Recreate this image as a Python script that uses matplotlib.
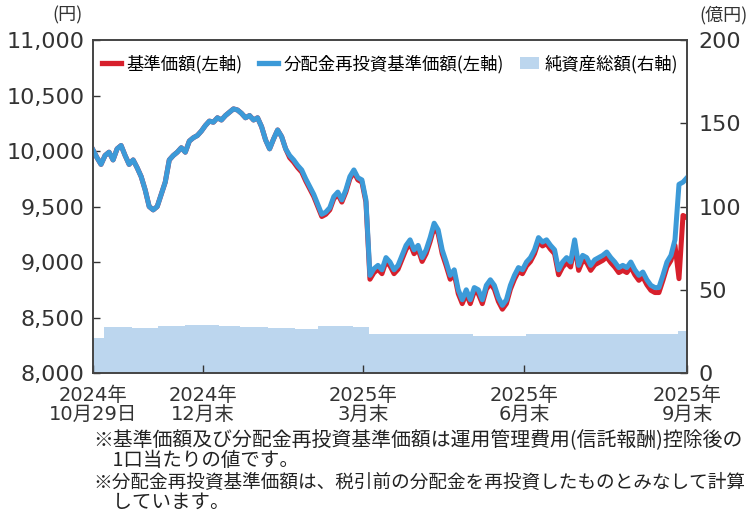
import matplotlib
matplotlib.use("Agg")
import matplotlib.pyplot as plt
from matplotlib.lines import Line2D
from matplotlib.patches import Patch
import numpy as np
import pandas as pd

plt.rcParams['font.family'] = ['DejaVu Sans', 'Noto Sans CJK JP']

# 分配金再投資基準価額 (blue), sampled evenly from 2024-10-29 to 2025-09-30
reinvest_nav = [
    10010, 9940, 9880, 9960, 9990, 9920, 10020, 10050, 9960, 9880,
    9920, 9850, 9770, 9650, 9500, 9470, 9500, 9610, 9720, 9920,
    9960, 9990, 10030, 9990, 10090, 10120, 10140, 10180, 10230, 10270,
    10260, 10300, 10280, 10320, 10350, 10380, 10370, 10340, 10300, 10320,
    10280, 10300, 10220, 10100, 10020, 10110, 10190, 10130, 10020, 9960,
    9920, 9870, 9830, 9750, 9680, 9610, 9520, 9430, 9450, 9490,
    9590, 9630, 9560, 9650, 9770, 9830, 9760, 9740, 9560, 8880,
    8940, 8970, 8930, 9040, 9000, 8930, 8970, 9060, 9150, 9200,
    9110, 9150, 9040, 9110, 9220, 9350, 9290, 9110, 9000, 8880,
    8930, 8750, 8660, 8750, 8660, 8770, 8750, 8660, 8790, 8840,
    8790, 8680, 8610, 8660, 8790, 8880, 8950, 8930, 9000, 9040,
    9110, 9220, 9180, 9200, 9150, 9110, 8930, 9000, 9040, 9000,
    9200, 8970, 9060, 9040, 8970, 9020, 9040, 9060, 9090, 9040,
    9000, 8950, 8970, 8950, 9000, 8930, 8880, 8910, 8840, 8790,
    8770, 8770, 8880, 9000, 9060, 9200, 9700, 9720, 9760,
]

# 基準価額 (red)
nav = [
    10010, 9940, 9880, 9960, 9990, 9920, 10020, 10050, 9960, 9880,
    9920, 9850, 9770, 9650, 9500, 9470, 9500, 9610, 9720, 9920,
    9960, 9990, 10030, 9990, 10090, 10120, 10140, 10180, 10230, 10270,
    10260, 10300, 10280, 10320, 10350, 10380, 10370, 10340, 10300, 10320,
    10280, 10300, 10220, 10100, 10020, 10110, 10190, 10130, 10020, 9940,
    9900, 9850, 9810, 9730, 9660, 9590, 9500, 9410, 9430, 9470,
    9570, 9610, 9540, 9630, 9750, 9810, 9740, 9720, 9540, 8845,
    8905, 8935, 8895, 9005, 8965, 8895, 8935, 9025, 9115, 9165,
    9075, 9115, 9005, 9075, 9185, 9315, 9255, 9075, 8965, 8845,
    8895, 8715, 8625, 8715, 8625, 8735, 8715, 8625, 8755, 8805,
    8755, 8645, 8575, 8625, 8755, 8845, 8915, 8895, 8965, 9005,
    9075, 9185, 9145, 9165, 9115, 9075, 8885, 8955, 8995, 8955,
    9155, 8925, 9015, 8995, 8925, 8975, 8995, 9015, 9045, 8995,
    8955, 8905, 8925, 8905, 8955, 8885, 8835, 8865, 8795, 8745,
    8725, 8725, 8835, 8955, 9015, 9150, 8850, 9420, 9400,
]

# 純資産総額 (億円, right axis)
asset_dates = ['2024-10-29', '2024-11-04', '2024-11-20', '2024-12-05', '2024-12-20',
               '2025-01-08', '2025-01-20', '2025-02-05', '2025-02-20', '2025-03-05',
               '2025-03-25', '2025-04-03', '2025-05-01', '2025-06-01', '2025-07-01',
               '2025-08-01', '2025-09-01', '2025-09-25', '2025-09-30']
asset_values = [21, 27.5, 27, 28.5, 29, 28, 27.5, 27, 26.5, 28,
                27.5, 23.5, 23.5, 22.5, 23.5, 23.5, 23.5, 25, 25]

tick_dates = ['2024-10-29', '2024-12-30', '2025-03-31', '2025-06-30', '2025-09-30']
tick_labels = ['2024年\n10月29日', '2024年\n12月末', '2025年\n3月末', '2025年\n6月末', '2025年\n9月末']

notes = [
    '※基準価額及び分配金再投資基準価額は運用管理費用(信託報酬)控除後の',
    '　1口当たりの値です。',
    '※分配金再投資基準価額は、税引前の分配金を再投資したものとみなして計算',
    '　しています。',
]
note_sizes = [14.3, 14.0, 13.4, 14.0]
note_ys = [0.143, 0.104, 0.061, 0.022]

RED = '#d7202c'
BLUE = '#3c9ad8'
AREA = '#bcd6ee'
TXT = '#333333'

dates = pd.date_range('2024-10-29', '2025-09-30', periods=len(nav))
a_dates = pd.to_datetime(asset_dates)

fig = plt.figure(figsize=(7.47, 5.14), dpi=100)
ax = fig.add_axes([0.1245, 0.2743, 0.7952, 0.6477])
ax2 = ax.twinx()

ax2.fill_between(a_dates, asset_values, 0, step='post', color=AREA, linewidth=0)
ax2.set_ylim(0, 200)
ax2.set_yticks([0, 50, 100, 150, 200])

ax.set_zorder(ax2.get_zorder() + 1)
ax.patch.set_visible(False)
ax.plot(dates, nav, color=RED, lw=3.6, solid_joinstyle='round')
ax.plot(dates, reinvest_nav, color=BLUE, lw=3.6, solid_joinstyle='round')

ax.set_ylim(8000, 11000)
ax.set_yticks(np.arange(8000, 11001, 500))
ax.yaxis.set_major_formatter(plt.FuncFormatter(lambda v, p: f'{v:,.0f}'))
ax.set_xlim(pd.Timestamp('2024-10-29'), pd.Timestamp('2025-09-30'))
ax.set_xticks(pd.to_datetime(tick_dates))
ax.set_xticklabels(tick_labels, linespacing=1.0)

ax.tick_params(axis='y', direction='in', length=5, width=1, labelsize=16, pad=6, colors=TXT)
ax.tick_params(axis='x', direction='in', length=6, width=1, labelsize=14, pad=9, colors=TXT)
ax2.tick_params(axis='y', direction='in', length=5, width=1, labelsize=16, pad=8, colors=TXT)
for a in (ax, ax2):
    for s in a.spines.values():
        s.set_color('#444444')
        s.set_linewidth(1.2)

handles = [Line2D([0], [0], color=RED, lw=3.8),
           Line2D([0], [0], color=BLUE, lw=3.8),
           Patch(facecolor=AREA, edgecolor='none')]
labels = ['基準価額(左軸)', '分配金再投資基準価額(左軸)', '純資産総額(右軸)']
ax.legend(handles, labels, loc='upper center', ncol=3, frameon=False,
          handlelength=1.1, handletextpad=0.35, columnspacing=0.9,
          bbox_to_anchor=(0.5, 1.0), borderaxespad=0.45,
          prop={'family': ['Noto Sans CJK JP'], 'size': 12.5})

fig.text(0.110, 0.970, '(円)', ha='right', va='center', fontsize=13, color=TXT,
         family=['Noto Sans CJK JP'])
fig.text(0.936, 0.970, '(億円)', ha='left', va='center', fontsize=13, color=TXT,
         family=['Noto Sans CJK JP'])

for y, t, fs in zip(note_ys, notes, note_sizes):
    fig.text(0.125, y, t, ha='left', va='center', fontsize=fs, color='#222222',
             family=['Noto Sans CJK JP'])

fig.savefig('out.png', dpi=100)
